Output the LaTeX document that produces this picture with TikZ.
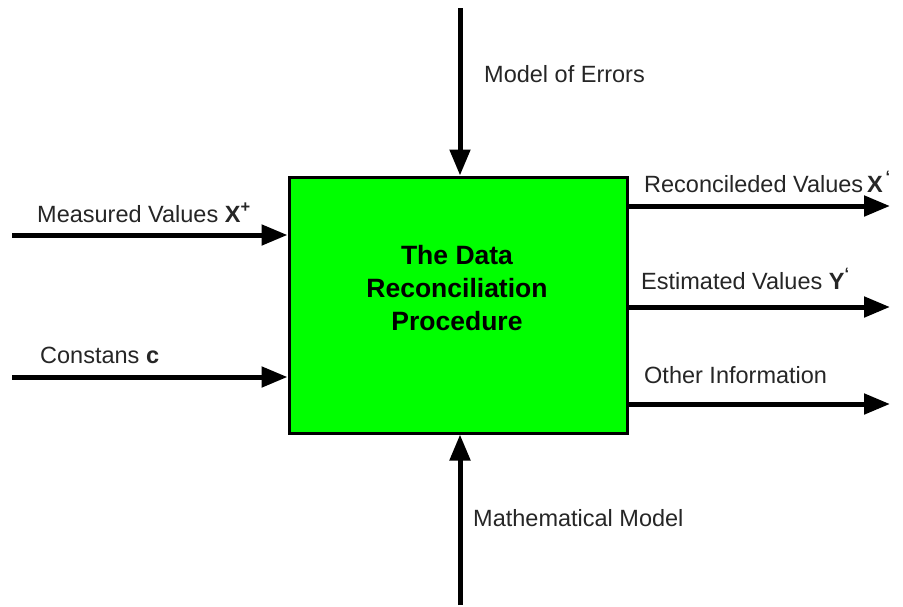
\documentclass[tikz,border=0pt]{standalone}
\usepackage{fontspec}
\setmainfont{Liberation Sans}
\usetikzlibrary{arrows.meta}
\begin{document}
\begin{tikzpicture}[x=1pt,y=-1pt,
  flow/.style={line width=5pt,-{Triangle[length=26pt,width=20pt]}},
  lbl/.style={font=\fontsize{23.5}{26}\selectfont,anchor=base west,inner sep=0pt,text=black!85},
  procbox/.style={draw,line width=3pt,fill=green,minimum width=338pt,minimum height=256pt,inner sep=0pt}]
\useasboundingbox[fill=white] (0,0) rectangle (903,606);
\node[procbox] (box) at (458,305) {};
\node[font=\fontsize{26.5}{33}\selectfont\bfseries,align=center] (title) at (457,288) {The Data\\Reconciliation\\Procedure};
% top / bottom
\coordinate (topS) at (460,8);
\coordinate (botS) at (460,605);
\draw[flow] (topS) -- (topS |- box.north);
\draw[flow] (botS) -- (botS |- box.south);
\node[lbl] (lmoe) at (484,82) {Model of Errors};
\node[lbl] (lmm) at (473,526) {Mathematical Model};
% left inputs
\coordinate (inA) at (12,235);
\coordinate (inB) at (12,377);
\draw[flow] (inA) -- (inA -| box.west);
\draw[flow] (inB) -- (inB -| box.west);
\node[lbl] (lmv) at (37,222) {Measured Values \textbf{X}\textsuperscript{\textbf{+}}};
\node[lbl] (lcc) at (40,363) {Constans \textbf{c}};
% right outputs
\coordinate (outA) at (890,206);
\coordinate (outB) at (890,307);
\coordinate (outC) at (890,404);
\draw[flow] (outA -| box.east) -- (outA);
\draw[flow] (outB -| box.east) -- (outB);
\draw[flow] (outC -| box.east) -- (outC);
\node[lbl] (lrv) at (644,192) {Reconcileded Values\,\textbf{X}\textsuperscript{\,\textbf{‘}}};
\node[lbl] (lev) at (641,289) {Estimated Values \textbf{Y}\textsuperscript{\textbf{‘}}};
\node[lbl] (loi) at (644,383) {Other Information};
\end{tikzpicture}
\end{document}
